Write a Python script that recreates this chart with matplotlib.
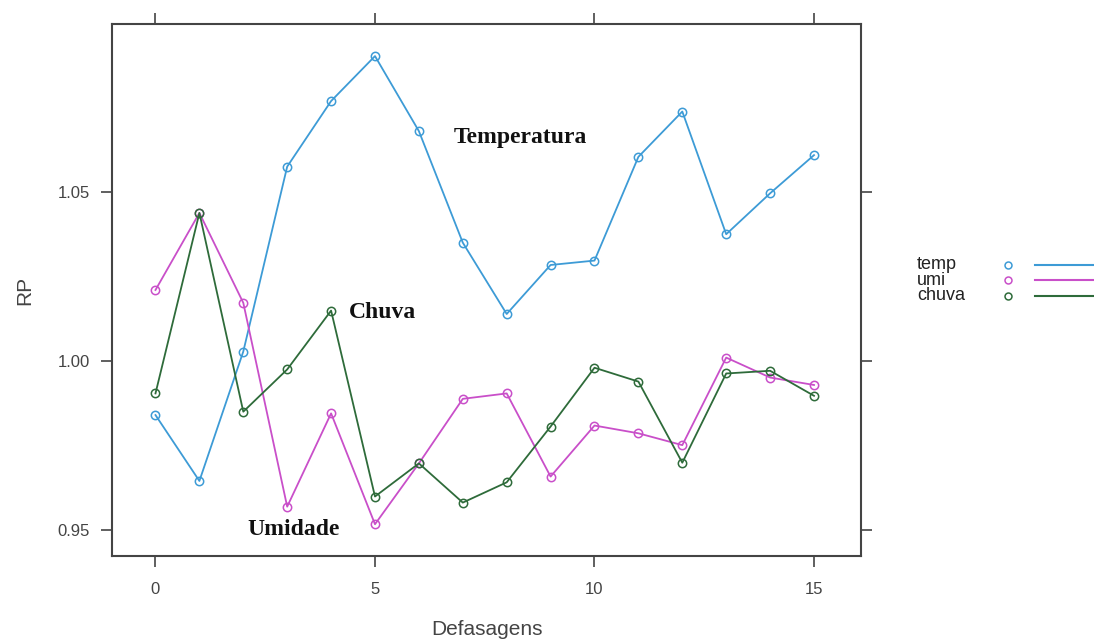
import matplotlib
matplotlib.use('Agg')
import matplotlib.pyplot as plt
from matplotlib.lines import Line2D

# --- dados ---
defasagens = list(range(16))
temp = [0.984, 0.9645, 1.0028, 1.0575, 1.0769, 1.0902, 1.068, 1.035,
        1.0139, 1.0284, 1.0297, 1.0604, 1.0738, 1.0375, 1.0496, 1.0609]
umi = [1.021, 1.0438, 1.0172, 0.9569, 0.9845, 0.9517, 0.9697, 0.9888,
       0.9904, 0.9658, 0.9809, 0.9786, 0.9751, 1.001, 0.9951, 0.9929]
chuva = [0.9904, 1.0438, 0.985, 0.9975, 1.0149, 0.9599, 0.9697, 0.9581,
         0.9641, 0.9806, 0.998, 0.9939, 0.9699, 0.9963, 0.9971, 0.9897]

series = ['temp', 'umi', 'chuva']
cores = ['#3d9bd6', '#c94fc9', '#2e6b3a']
yticks = [0.95, 1.00, 1.05]
xticks = [0, 5, 10, 15]

plt.rcParams['font.family'] = ['Liberation Sans', 'DejaVu Sans']

fig = plt.figure(figsize=(10.94, 6.43), dpi=100)
ax = fig.add_axes([0.1024, 0.1353, 0.6846, 0.8274])

for nome, valores, cor in zip(series, [temp, umi, chuva], cores):
    ax.plot(defasagens, valores, color=cor, lw=1.3, marker='o', ms=6,
            mfc='none', mec=cor, mew=1.1, label=nome)

ax.set_xlim(-0.99, 16.07)
ax.set_ylim(0.9423, 1.0997)
ax.set_xticks(xticks)
ax.set_yticks(yticks)
ax.set_yticklabels(['0.95', '1.00', '1.05'])
ax.tick_params(direction='out', length=8, width=1.2, color='#444444',
               labelcolor='#444444', labelsize=12, top=True, right=True)
ax.tick_params(axis='x', pad=11)
ax.tick_params(axis='y', pad=8)
for s in ax.spines.values():
    s.set_color('#444444')
    s.set_linewidth(1.5)

ax.set_xlabel('Defasagens', fontsize=15, color='#444444', labelpad=16)
ax.set_ylabel('RP', fontsize=15, color='#444444', labelpad=17)

# rótulos dentro do gráfico
rotulo = dict(family=['Liberation Serif', 'DejaVu Serif'], fontweight='bold',
              fontsize=17, color='#111111')
ax.text(6.8, 1.0660, 'Temperatura', **rotulo, va='center')
ax.text(4.4, 1.0142, 'Chuva', **rotulo, va='center')
ax.text(2.1, 0.9502, 'Umidade', **rotulo, va='center')

# legenda à direita (estilo lattice: texto, ponto, linha)
ys = [0.588, 0.564, 0.540]
for nome, cor, y in zip(series, cores, ys):
    fig.text(0.838, y, nome, fontsize=13, color='#222222', va='center')
    fig.add_artist(Line2D([0.921], [y], marker='o', ms=5, mfc='none',
                          mec=cor, mew=1.1, transform=fig.transFigure))
    fig.add_artist(Line2D([0.946, 1.0], [y, y], color=cor, lw=1.5,
                          transform=fig.transFigure))

fig.savefig('out.png', dpi=100)
